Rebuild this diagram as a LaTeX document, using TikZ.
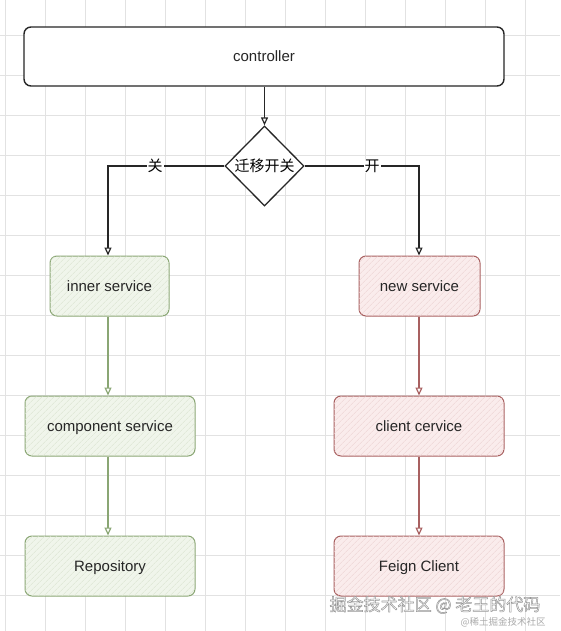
\documentclass[tikz,border=0pt]{standalone}
\usepackage{fontspec}
\setmainfont{Liberation Sans}
\newfontfamily\cjk{Noto Sans CJK SC}
\usetikzlibrary{arrows.meta,shapes.geometric,patterns.meta}
\definecolor{gridc}{RGB}{226,226,226}
\definecolor{gstroke}{RGB}{138,166,116}
\definecolor{gfill}{RGB}{240,245,235}
\definecolor{ghatch}{RGB}{218,228,208}
\definecolor{rstroke}{RGB}{168,96,96}
\definecolor{rfill}{RGB}{250,236,236}
\definecolor{rhatch}{RGB}{236,210,210}
\definecolor{wmark}{RGB}{150,150,150}
\tikzset{
  x=1pt, y=-1pt,
  base/.style={rectangle, rounded corners=7pt, font=\fontsize{15}{17}\selectfont, text=black!85, line width=1pt, inner sep=0pt, text height=12.5pt, text depth=1.5pt},
  greenbox/.style={base, draw=gstroke, fill=gfill, postaction={pattern={Lines[angle=45,distance=4pt,line width=0.5pt]}, pattern color=ghatch}},
  redbox/.style={base, draw=rstroke, fill=rfill, postaction={pattern={Lines[angle=45,distance=4pt,line width=0.5pt]}, pattern color=rhatch}},
  ctrlbox/.style={base, draw=black!85, fill=white, line width=1.4pt},
  decision/.style={diamond, draw=black!85, fill=white, line width=1.3pt, inner sep=0pt, aspect=1, font=\cjk\fontsize{15}{17}\selectfont},
  arr/.style={line width=1.2pt, -{Triangle[open,length=8pt,width=7pt,fill=white]}},
  lbl/.style={fill=white, inner sep=1pt, font=\cjk\fontsize{15}{17}\selectfont}
}
\begin{document}
\begin{tikzpicture}
\useasboundingbox (0,0) rectangle (560,631);
\fill[white] (0,0) rectangle (560,631);
\foreach \i in {0,...,14} \draw[gridc, line width=0.8pt] (5+40*\i,0) -- (5+40*\i,631);
\foreach \j in {0,...,15} \draw[gridc, line width=0.8pt] (0,-5+40*\j) -- (560,-5+40*\j);

\node[ctrlbox, minimum width=480pt, minimum height=59pt] (ctrl) at (264,56.5) {controller};
\node[decision, minimum width=79pt, minimum height=80pt] (sw) at (264.5,166) {迁移开关};

\node[greenbox, minimum width=119pt, minimum height=60pt] (inner) at (109.5,286) {inner service};
\node[greenbox, minimum width=170pt, minimum height=60pt] (comp) at (110,426) {component service};
\node[greenbox, minimum width=170pt, minimum height=60pt] (repo) at (110,566) {Repository};

\node[redbox, minimum width=121pt, minimum height=60pt] (new) at (419.5,286) {new service};
\node[redbox, minimum width=170pt, minimum height=60pt] (client) at (419,426) {client cervice};
\node[redbox, minimum width=170pt, minimum height=60pt] (feign) at (419,566) {Feign Client};

\coordinate (lc) at (108,166);
\coordinate (rc) at (419,166);

\draw[arr, draw=black!85] (ctrl.south -| sw.north) -- (sw.north);
\draw[arr, draw=black!85] (sw.west) -- (lc) -- (inner.north -| lc);
\draw[arr, draw=black!85] (sw.east) -- (rc) -- (new.north -| rc);
\node[lbl] at (155,166) {关};
\node[lbl] at (372,166) {开};

\draw[arr, draw=gstroke] (inner.south -| lc) -- (comp.north -| lc);
\draw[arr, draw=gstroke] (comp.south -| lc) -- (repo.north -| lc);
\draw[arr, draw=rstroke] (new.south -| rc) -- (client.north -| rc);
\draw[arr, draw=rstroke] (client.south -| rc) -- (feign.north -| rc);

\node[font=\cjk\fontsize{17}{19}\selectfont, text=white, draw=none, inner sep=0pt] (wm1) at (435,605) {\pgfsetstrokecolor{wmark}\special{pdf:literal direct 2 Tr 0.5 w}掘金技术社区 @ 老王的代码\special{pdf:literal direct 0 Tr}};
\node[font=\cjk\fontsize{9.5}{11}\selectfont, text=wmark!80, inner sep=0pt] (wm2) at (503,622) {@稀土掘金技术社区};
\end{tikzpicture}
\end{document}
